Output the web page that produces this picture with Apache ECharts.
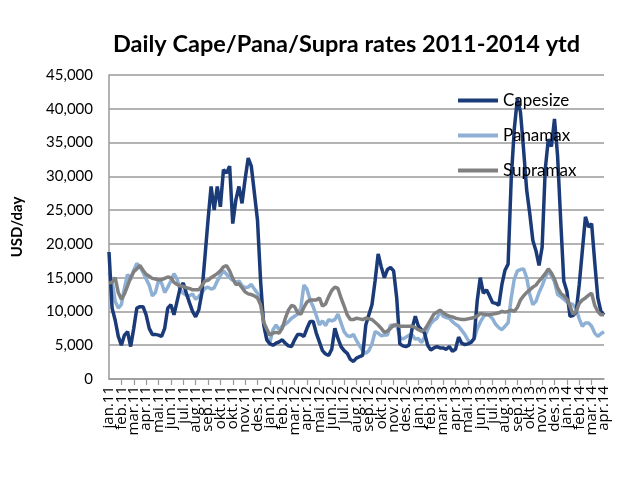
<!DOCTYPE html>
<html>
<head>
<meta charset="utf-8">
<script src="https://cdn.jsdelivr.net/npm/echarts@6/dist/echarts.min.js"></script>
<style>html,body{margin:0;padding:0;background:#fff}#c{width:630px;height:480px}</style>
</head>
<body>
<div id="c"></div>
<script>
// Tick labels (one per tick on the date axis)
var tickLabels = ['jan.11','feb.11','mar.11','apr.11','mai.11','jun.11','jul.11','aug.11','sep.11','okt.11','okt.11','nov.11','des.11',
  'jan.12','feb.12','mar.12','apr.12','mai.12','jun.12','jul.12','aug.12','sep.12','okt.12','nov.12','des.12',
  'jan.13','feb.13','mar.13','apr.13','mai.13','jun.13','jul.13','aug.13','sep.13','okt.13','nov.13','des.13',
  'jan.14','feb.14','mar.14','apr.14'];
var pointsPerTick = 4;

// Rates in thousand USD/day (approx. weekly readings)
var capesize = [18.8,10.5,8.7,6.3,5.0,6.5,7.0,4.8,7.5,10.5,10.7,10.7,9.5,7.5,6.6,6.6,6.5,6.3,7.5,10.5,
  11.0,9.5,11.5,13.5,14.2,12.7,11.3,10.0,9.2,10.2,12.7,18.0,23.5,28.5,25.0,28.5,25.5,31.0,30.5,31.5,
  23.0,26.5,28.5,26.0,29.6,32.7,31.5,27.5,23.5,14.5,8.0,5.8,5.2,5.0,5.3,5.5,5.8,5.3,4.9,4.8,
  5.8,6.6,6.6,6.3,7.5,8.5,8.5,6.8,5.5,4.2,3.7,3.5,4.4,7.5,6.0,4.8,4.2,3.8,2.9,2.6,
  3.1,3.3,3.5,8.0,9.5,11.0,14.5,18.5,16.6,15.0,16.2,16.5,16.0,12.0,5.2,4.9,4.8,5.0,7.5,9.3,
  7.8,7.3,6.8,5.0,4.3,4.6,4.8,4.6,4.6,4.4,4.8,4.1,4.4,6.2,5.3,5.1,5.2,5.4,6.0,11.5,
  15.0,12.7,13.2,12.3,11.3,11.2,10.9,14.0,16.1,17.0,29.5,37.0,41.5,39.5,34.0,28.0,24.5,20.5,19.0,16.8,
  19.5,31.0,35.5,34.4,38.5,33.0,23.5,14.5,13.0,9.3,9.4,9.9,14.0,19.0,24.0,22.5,23.0,17.3,12.0,10.0,9.5];
var panamax = [15.7,14.5,11.5,10.5,11.0,13.5,15.5,14.7,16.1,17.1,16.6,15.8,14.8,13.9,12.3,12.8,14.6,14.2,12.8,13.6,
  14.5,15.6,14.8,13.2,12.7,12.4,12.3,12.6,11.8,12.2,12.8,13.4,13.6,13.3,13.5,14.5,15.3,16.0,15.5,15.0,
  14.6,14.3,14.5,13.8,13.5,13.6,14.0,13.3,12.7,11.8,8.5,6.0,5.4,7.3,8.0,7.3,7.8,8.1,8.5,9.0,
  9.3,9.6,10.5,13.9,13.3,11.7,10.7,9.4,8.0,8.6,7.9,8.8,8.6,8.8,9.6,8.3,7.0,6.4,6.3,6.6,
  5.7,4.9,4.2,3.8,4.2,5.2,7.0,6.8,6.4,6.5,6.5,8.0,7.8,8.0,6.2,5.9,6.2,6.5,6.5,5.9,
  6.0,5.4,6.2,7.3,8.2,8.7,9.0,10.0,9.3,9.1,9.0,8.5,8.1,7.8,7.2,6.6,5.8,5.4,5.9,7.4,
  8.4,9.2,9.7,9.4,8.9,8.1,7.6,7.3,7.8,8.3,12.0,14.8,16.0,16.2,16.3,15.0,12.5,11.0,11.5,12.8,
  13.8,15.0,16.0,15.3,14.4,12.5,12.2,11.8,11.4,11.2,11.0,10.4,8.9,7.8,8.3,8.3,7.8,6.8,6.3,6.7,7.0];
var supramax = [14.2,14.3,15.0,12.8,11.8,12.6,13.8,15.0,15.9,16.3,16.8,16.1,15.5,15.2,14.9,14.8,14.7,14.7,14.9,15.1,
  15.0,14.3,14.0,13.8,13.7,13.5,13.4,13.2,13.2,13.2,13.8,14.5,14.6,15.0,15.3,15.6,16.0,16.6,16.8,16.0,
  14.9,14.0,14.1,13.5,12.9,12.6,12.5,12.3,12.0,11.0,8.4,7.4,6.5,6.8,6.9,6.8,7.5,9.0,10.2,10.9,
  10.7,9.8,9.6,10.6,11.4,11.7,11.7,11.7,12.0,10.8,11.1,12.2,13.1,13.6,13.4,12.0,10.8,9.5,8.8,8.8,
  9.0,8.9,8.8,9.0,8.9,8.8,8.4,8.0,7.5,6.9,7.1,7.5,8.0,8.0,7.8,7.8,7.8,7.8,7.8,7.6,
  7.3,7.1,7.3,8.0,8.8,9.6,9.9,10.2,9.8,9.5,9.3,9.2,9.0,8.9,8.8,8.8,8.9,9.0,9.1,9.3,
  9.7,9.6,9.5,9.5,9.6,9.7,9.8,10.0,9.9,10.0,10.2,10.0,10.6,11.7,12.3,12.8,13.2,13.6,13.9,14.5,
  15.0,15.6,16.3,15.7,14.8,13.5,12.7,12.3,11.8,10.8,9.6,10.0,11.2,11.7,12.0,12.4,12.7,10.9,10.0,9.5,9.5];

var categories = [];
tickLabels.forEach(function (t, i) {
  categories.push(t);
  if (i < tickLabels.length - 1) for (var k = 1; k < pointsPerTick; k++) categories.push('');
});
var lastIdx = categories.length - 1;
function toUSD(a) { return a.map(function (v) { return Math.round(v * 1000); }); }

var font = 'Lato, "Open Sans", sans-serif';
var xFont = '"Open Sans", Lato, sans-serif';
var icon = 'path://M0,8 L40,8 L40,12 L0,12 Z';
var chart = echarts.init(document.getElementById('c'), null, {renderer: 'canvas'});
chart.setOption({
  animation: false,
  title: {
    text: 'Daily Cape/Pana/Supra rates 2011-2014 ytd',
    left: 108, top: 27,
    textStyle: {fontFamily: font, fontWeight: 'bold', fontSize: 23.5, color: '#000'}
  },
  legend: {
    orient: 'vertical', left: 453, top: 87, itemGap: 18,
    itemWidth: 40, itemHeight: 20,
    textStyle: {fontFamily: font, fontSize: 17, color: '#000'},
    data: [
      {name: 'Capesize', icon: icon},
      {name: 'Panamax', icon: icon},
      {name: 'Supramax', icon: icon}
    ]
  },
  grid: {left: 109, right: 26, top: 75, bottom: 101},
  xAxis: [{
    type: 'category', data: categories, boundaryGap: false, position: 'bottom',
    axisLine: {lineStyle: {color: '#9a9a9a', width: 1.5}},
    axisTick: {interval: pointsPerTick - 1, length: 6, lineStyle: {color: '#9a9a9a', width: 1.2}},
    axisLabel: {interval: pointsPerTick - 1, rotate: 90, fontFamily: xFont, fontSize: 15,
      color: '#000', margin: 7, showMinLabel: false, showMaxLabel: false, hideOverlap: false},
    splitLine: {show: false}
  }, {
    type: 'category', data: categories, boundaryGap: false, position: 'bottom',
    axisLine: {show: false}, axisTick: {show: false}, splitLine: {show: false},
    axisLabel: {interval: function (i) { return i === 0 || i === lastIdx; }, rotate: 90, fontFamily: xFont, fontSize: 15,
      color: '#000', margin: 7, showMinLabel: true, showMaxLabel: true, hideOverlap: false}
  }],
  yAxis: {
    type: 'value', min: 0, max: 45000, interval: 5000,
    name: 'USD/day', nameLocation: 'middle', nameGap: 84,
    nameTextStyle: {fontFamily: font, fontWeight: 'bold', fontSize: 15, color: '#000'},
    axisLine: {show: true, lineStyle: {color: '#9a9a9a', width: 1.5}},
    axisTick: {show: false},
    axisLabel: {
      fontFamily: font, fontSize: 15, color: '#000', margin: 16,
      formatter: function (v) { return v.toLocaleString('en-US'); }
    },
    splitLine: {lineStyle: {color: '#9a9a9a', width: 1.5}}
  },
  series: [
    {name: 'Capesize', type: 'line', data: toUSD(capesize), showSymbol: false, smooth: false,
     lineStyle: {color: '#1B3A78', width: 3.5}, itemStyle: {color: '#1B3A78'}, z: 3},
    {name: 'Panamax', type: 'line', data: toUSD(panamax), showSymbol: false,
     lineStyle: {color: '#8EB0D4', width: 3.5}, itemStyle: {color: '#8EB0D4'}, z: 2},
    {name: 'Supramax', type: 'line', data: toUSD(supramax), showSymbol: false,
     lineStyle: {color: '#808080', width: 3.5}, itemStyle: {color: '#808080'}, z: 4}
  ]
});
</script>
</body>
</html>
